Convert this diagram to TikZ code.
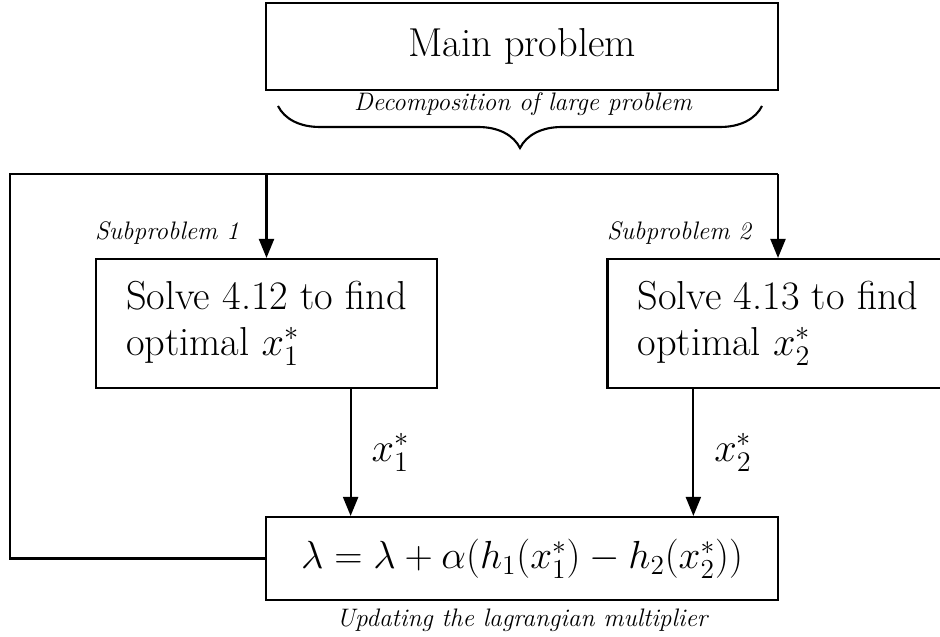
\RequirePackage{fix-cm}
\documentclass[tikz,border=0pt]{standalone}
\usepackage{amssymb}
\usepackage{amsmath}
\usepackage{xcolor}
\usepackage{tikz}
\usetikzlibrary{positioning,shapes,arrows.meta,decorations.pathreplacing,calc}
\tikzset{
    block/.style={rectangle, draw, line width=1.2pt, minimum width=10.24cm, font=\fontsize{23}{26}\selectfont, inner sep=0pt},
    subblock/.style={rectangle, draw, line width=1.2pt, minimum width=6.82cm, minimum height=2.58cm, font=\fontsize{23}{26}\selectfont, align=left, inner sep=0pt},
    note/.style={font=\Large\itshape, inner sep=1pt},
    flow/.style={line width=1.2pt, -{Triangle[length=0.38cm, width=0.3cm]}}
}

\begin{document}
\begin{tikzpicture}[scale=1.0]
    \useasboundingbox (0,0) rectangle (18.8,-12.74);

    \node[block, minimum height=1.74cm] (main) at (10.44,-0.93) {Main problem};
    \draw[line width=1.2pt, decorate, decoration={brace, mirror, amplitude=0.84cm}] (5.56,-2.12) -- (15.24,-2.12);
    \node[note] (decomp) at (10.46,-2.08) {Decomposition of large problem};

    \node[subblock] (sub1) at (5.33,-6.47) {Solve 4.12 to find\\optimal $x_1^*$};
    \node[subblock] (sub2) at (15.56,-6.47) {Solve 4.13 to find\\optimal $x_2^*$};
    \node[note] (lab1) at (3.34,-4.66) {Subproblem 1};
    \node[note] (lab2) at (13.58,-4.66) {Subproblem 2};

    \node[block, minimum height=1.66cm, font=\fontsize{22.3}{26}\selectfont] (update) at (10.44,-11.17) {$\lambda = \lambda + \alpha(h_1(x_1^*) - h_2(x_2^*))$};
    \node[note] (updlab) at (10.44,-12.4) {Updating the lagrangian multiplier};

    \coordinate (corner) at (0.2,-3.48);
    \coordinate (split1) at (sub1.north |- corner);
    \coordinate (split2) at (sub2.north |- corner);
    \coordinate (in1) at ($(update.north west)!1/6!(update.north east)$);
    \coordinate (in2) at ($(update.north west)!5/6!(update.north east)$);

    % feedback loop
    \draw[line width=1.2pt] (update.west) -| (corner) -- (split2);
    \draw[flow] (split1) -- (sub1.north);
    \draw[flow] (split2) -- (sub2.north);

    \draw[flow] (sub1.south -| in1) -- (in1) node[midway, right, xshift=8pt, font=\fontsize{23}{26}\selectfont] (x1) {$x_1^*$};
    \draw[flow] (sub2.south -| in2) -- (in2) node[midway, right, xshift=8pt, font=\fontsize{23}{26}\selectfont] (x2) {$x_2^*$};

\end{tikzpicture}
\end{document}
